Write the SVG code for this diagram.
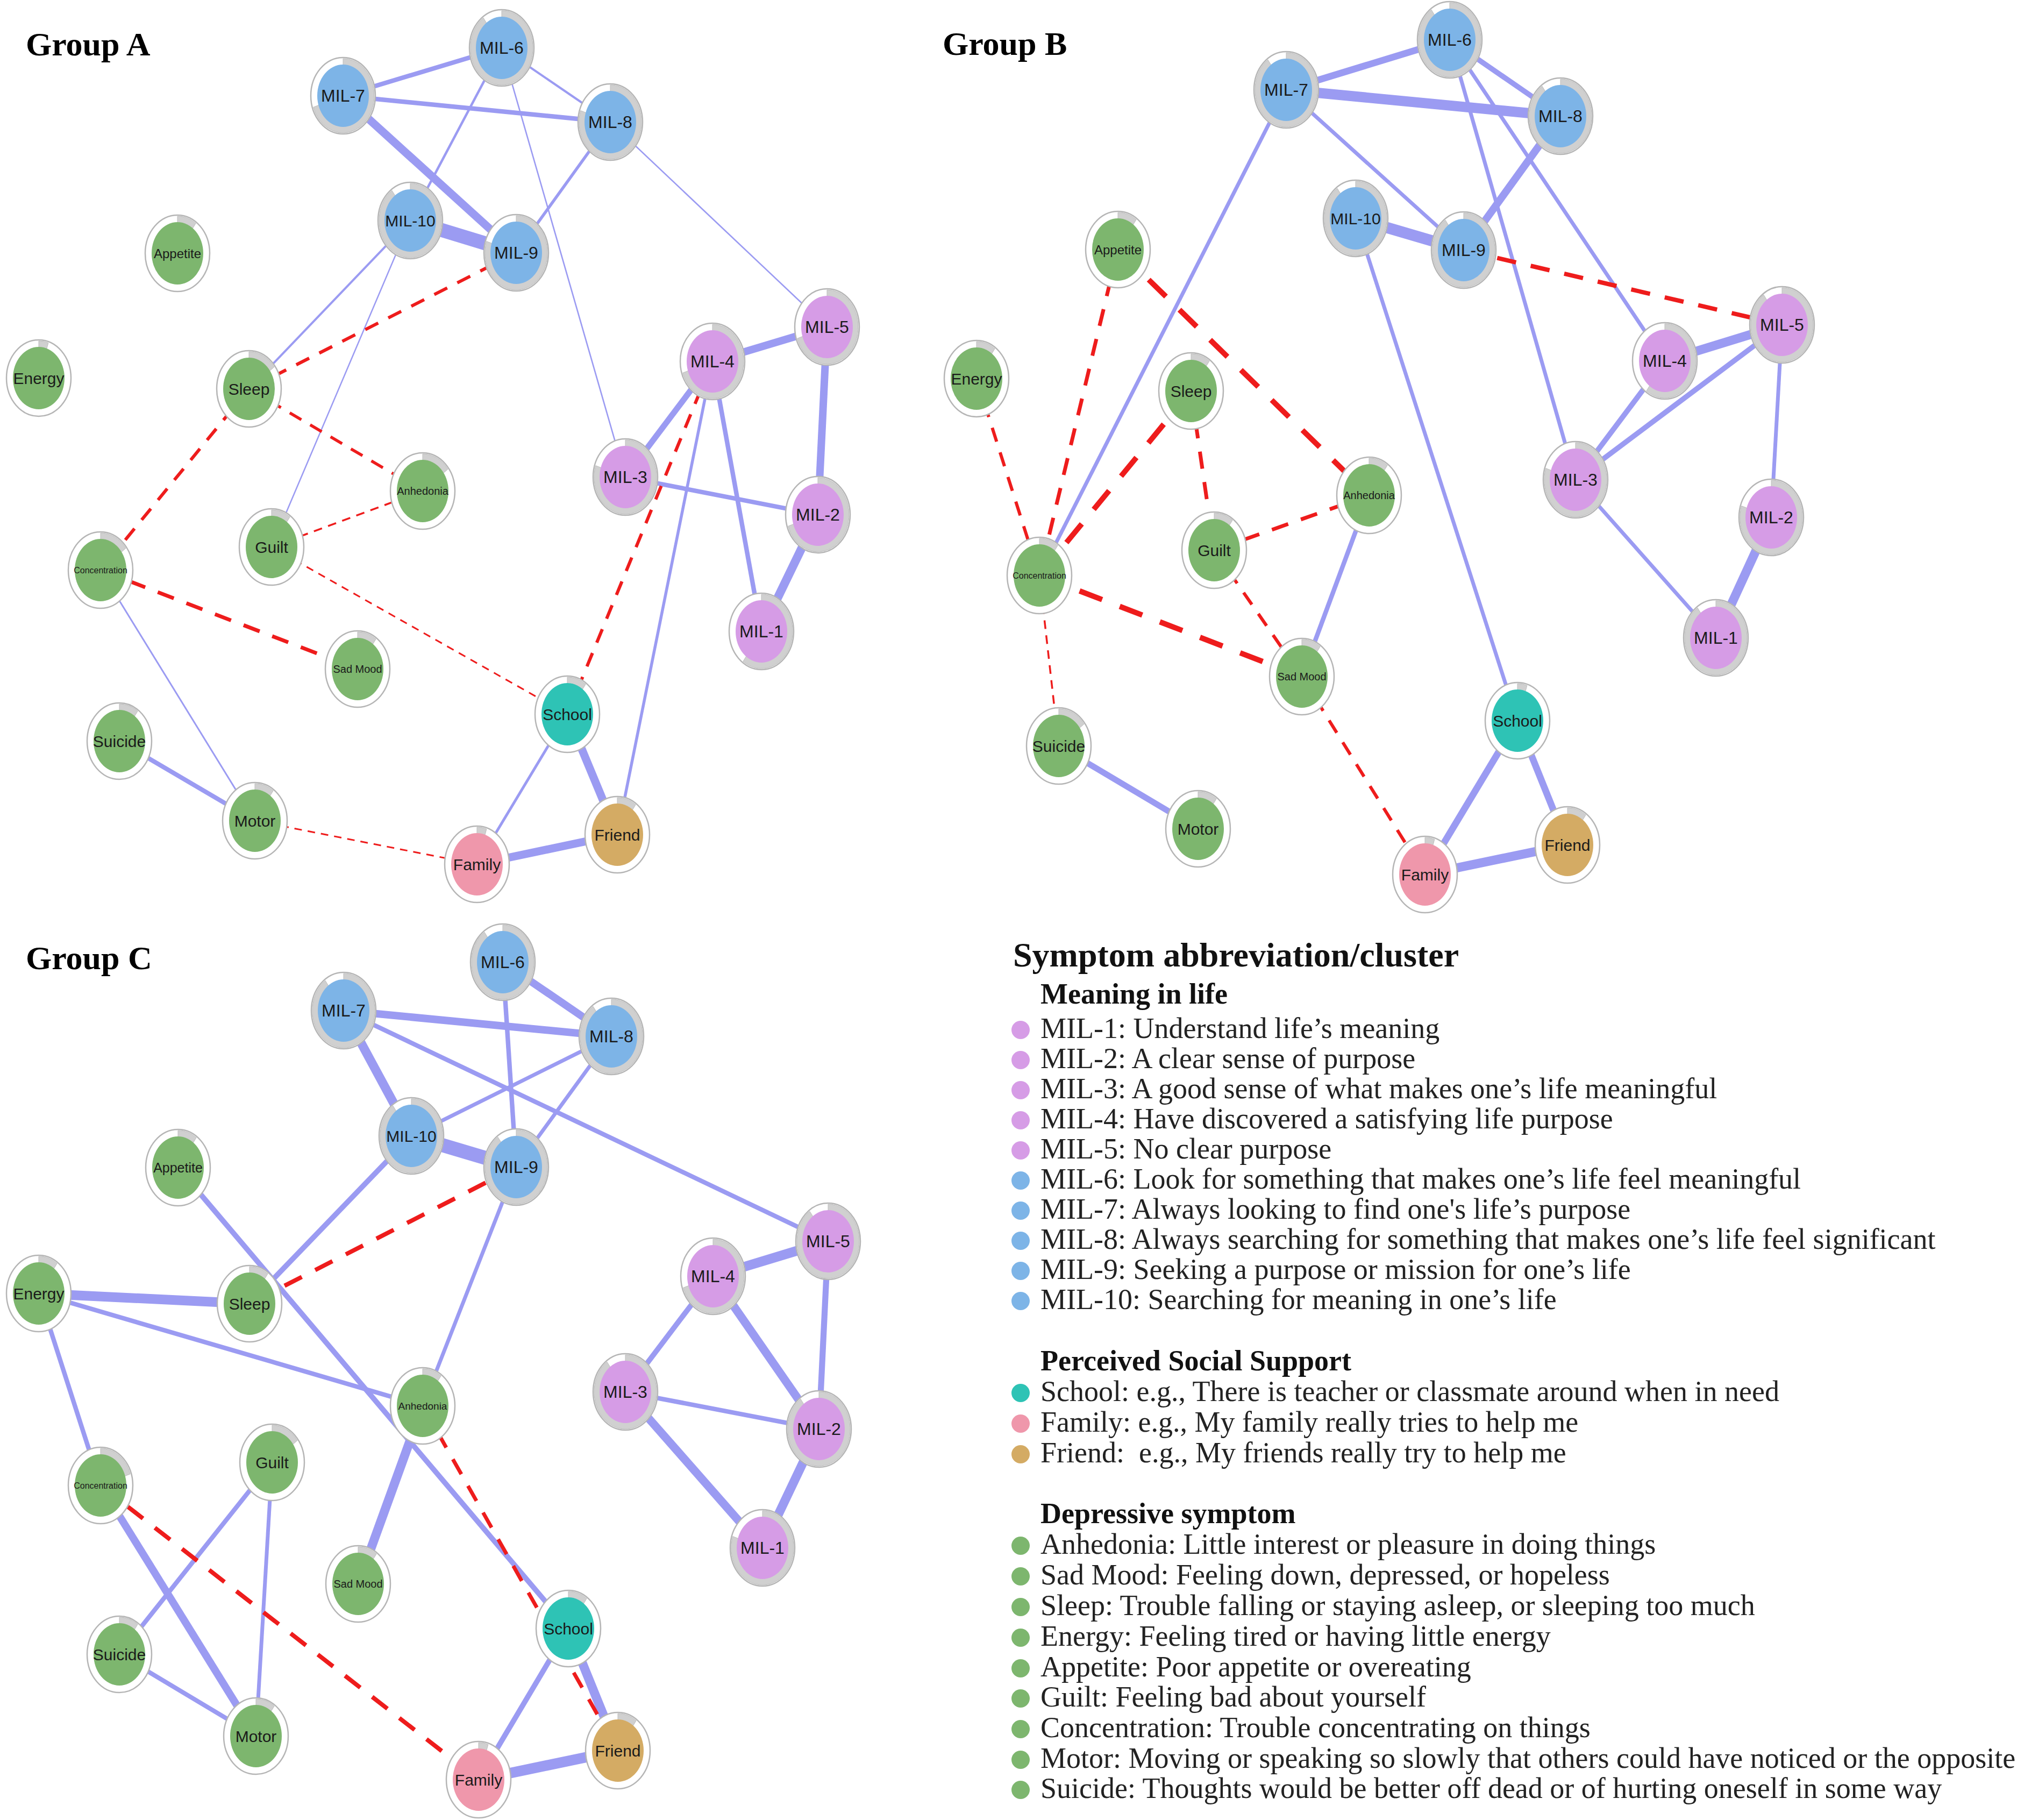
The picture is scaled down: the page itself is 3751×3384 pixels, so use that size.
<svg xmlns="http://www.w3.org/2000/svg" xmlns:xlink="http://www.w3.org/1999/xlink" width="3751" height="3384" viewBox="0 0 3751 3384">
<style>
.ring{fill:#ffffff;stroke:#b5b5b5;stroke-width:2.5}
.pie{fill:#d0d0d0;stroke:#bdbdbd;stroke-width:1}
.mp{fill:#d69ce6}.mb{fill:#7db4e7}.dg{fill:#7db66e}.sc{fill:#2ec3b5}.fa{fill:#ef97ab}.fr{fill:#d4ab64}
.lbl{font-family:"Liberation Sans",Arial,sans-serif;text-anchor:middle;dominant-baseline:central;fill:#1a1a1a}
.pos{stroke:#9b9bf2;fill:none}
.neg{stroke:#ee1c1c;fill:none}
.title{font-family:"Liberation Serif","Times New Roman",serif;font-weight:bold;font-size:62px;fill:#000}
.head{font-family:"Liberation Serif","Times New Roman",serif;font-weight:bold;font-size:64px;fill:#111}
.sub{font-family:"Liberation Serif","Times New Roman",serif;font-weight:bold;font-size:54px;fill:#111}
.item{font-family:"Liberation Serif","Times New Roman",serif;font-size:54px;fill:#222;white-space:pre}
</style>
<defs>
<ellipse id="ring" class="ring" rx="60" ry="71"/>
<path id="p05" class="pie" d="M0,0 L0,-69 A58,69 0 0 1 17.9,-65.6 Z"/>
<path id="p10" class="pie" d="M0,0 L0,-69 A58,69 0 0 1 34.1,-55.8 Z"/>
<path id="p15" class="pie" d="M0,0 L0,-69 A58,69 0 0 1 46.9,-40.6 Z"/>
<path id="p20" class="pie" d="M0,0 L0,-69 A58,69 0 0 1 55.2,-21.3 Z"/>
<path id="p60" class="pie" d="M0,0 L0,-69 A58,69 0 1 1 -34.1,55.8 Z"/>
<path id="p70" class="pie" d="M0,0 L0,-69 A58,69 0 1 1 -55.2,21.3 Z"/>
<path id="p80" class="pie" d="M0,0 L0,-69 A58,69 0 1 1 -55.2,-21.3 Z"/>
<path id="p90" class="pie" d="M0,0 L0,-69 A58,69 0 1 1 -34.1,-55.8 Z"/>
<ellipse id="core" rx="48" ry="58"/>
</defs>
<rect width="3751" height="3384" fill="#ffffff"/>

<text class="title" x="48" y="103">Group A</text>
<text class="title" x="1753" y="102">Group B</text>
<text class="title" x="48" y="1802">Group C</text>

<g id="connectors">
<!-- Group A -->
<line class="pos" x1="638" y1="178" x2="933" y2="89" stroke-width="8.4"/>
<line class="pos" x1="638" y1="178" x2="1135" y2="227" stroke-width="8.4"/>
<line class="pos" x1="933" y1="89" x2="1135" y2="227" stroke-width="4"/>
<line class="pos" x1="638" y1="178" x2="960" y2="470" stroke-width="15"/>
<line class="pos" x1="763" y1="410" x2="960" y2="470" stroke-width="26"/>
<line class="pos" x1="933" y1="89" x2="763" y2="410" stroke-width="4.5"/>
<line class="pos" x1="1135" y1="227" x2="960" y2="470" stroke-width="5.5"/>
<line class="pos" x1="933" y1="89" x2="1163" y2="887" stroke-width="2.6"/>
<line class="pos" x1="1135" y1="227" x2="1538" y2="608" stroke-width="2.6"/>
<line class="pos" x1="763" y1="410" x2="463" y2="723" stroke-width="4"/>
<line class="pos" x1="763" y1="410" x2="505" y2="1017" stroke-width="2.5"/>
<line class="pos" x1="187" y1="1060" x2="474" y2="1526" stroke-width="3"/>
<line class="pos" x1="222" y1="1378" x2="474" y2="1526" stroke-width="8.4"/>
<line class="pos" x1="1055" y1="1328" x2="1148" y2="1552" stroke-width="15"/>
<line class="pos" x1="1055" y1="1328" x2="887" y2="1607" stroke-width="5"/>
<line class="pos" x1="887" y1="1607" x2="1148" y2="1552" stroke-width="15"/>
<line class="pos" x1="1148" y1="1552" x2="1325" y2="672" stroke-width="5.5"/>
<line class="pos" x1="1325" y1="672" x2="1538" y2="608" stroke-width="14"/>
<line class="pos" x1="1538" y1="608" x2="1521" y2="957" stroke-width="14"/>
<line class="pos" x1="1325" y1="672" x2="1163" y2="887" stroke-width="11"/>
<line class="pos" x1="1325" y1="672" x2="1416" y2="1174" stroke-width="8.4"/>
<line class="pos" x1="1163" y1="887" x2="1521" y2="957" stroke-width="8.4"/>
<line class="pos" x1="1521" y1="957" x2="1416" y2="1174" stroke-width="16"/>
<line class="neg" x1="960" y1="470" x2="463" y2="723" stroke-width="6" stroke-dasharray="27 21"/>
<line class="neg" x1="463" y1="723" x2="187" y2="1060" stroke-width="6" stroke-dasharray="27 21"/>
<line class="neg" x1="463" y1="723" x2="786" y2="913" stroke-width="5.5" stroke-dasharray="25 19"/>
<line class="neg" x1="505" y1="1017" x2="786" y2="913" stroke-width="3.5" stroke-dasharray="16 12"/>
<line class="neg" x1="505" y1="1017" x2="1055" y2="1328" stroke-width="3" stroke-dasharray="14 11"/>
<line class="neg" x1="187" y1="1060" x2="665" y2="1244" stroke-width="7" stroke-dasharray="32 25"/>
<line class="neg" x1="474" y1="1526" x2="887" y2="1607" stroke-width="3" stroke-dasharray="14 11"/>
<line class="neg" x1="1055" y1="1328" x2="1325" y2="672" stroke-width="6" stroke-dasharray="27 21"/>
<!-- Group B -->
<line class="pos" x1="2392" y1="167" x2="2696" y2="74" stroke-width="12.6"/>
<line class="pos" x1="2392" y1="167" x2="2902" y2="216" stroke-width="19"/>
<line class="pos" x1="2696" y1="74" x2="2902" y2="216" stroke-width="9.8"/>
<line class="pos" x1="2696" y1="74" x2="3096" y2="671" stroke-width="7"/>
<line class="pos" x1="2696" y1="74" x2="2930" y2="892" stroke-width="7"/>
<line class="pos" x1="2392" y1="167" x2="2722" y2="465" stroke-width="7"/>
<line class="pos" x1="2902" y1="216" x2="2722" y2="465" stroke-width="14"/>
<line class="pos" x1="2521" y1="406" x2="2722" y2="465" stroke-width="21"/>
<line class="pos" x1="2392" y1="167" x2="1933" y2="1070" stroke-width="7"/>
<line class="pos" x1="2521" y1="406" x2="2822" y2="1340" stroke-width="7"/>
<line class="pos" x1="3096" y1="671" x2="3314" y2="604" stroke-width="16.8"/>
<line class="pos" x1="2930" y1="892" x2="3096" y2="671" stroke-width="9.8"/>
<line class="pos" x1="2930" y1="892" x2="3314" y2="604" stroke-width="9.8"/>
<line class="pos" x1="3314" y1="604" x2="3294" y2="962" stroke-width="7"/>
<line class="pos" x1="2930" y1="892" x2="3191" y2="1186" stroke-width="7"/>
<line class="pos" x1="3294" y1="962" x2="3191" y2="1186" stroke-width="16.8"/>
<line class="pos" x1="2546" y1="921" x2="2421" y2="1258" stroke-width="8.4"/>
<line class="pos" x1="1969" y1="1387" x2="2228" y2="1541" stroke-width="11.2"/>
<line class="pos" x1="2822" y1="1340" x2="2650" y2="1626" stroke-width="12.6"/>
<line class="pos" x1="2822" y1="1340" x2="2915" y2="1571" stroke-width="12.6"/>
<line class="pos" x1="2650" y1="1626" x2="2915" y2="1571" stroke-width="16.8"/>
<line class="neg" x1="2722" y1="465" x2="3314" y2="604" stroke-width="8" stroke-dasharray="36 28"/>
<line class="neg" x1="2079" y1="464" x2="1933" y2="1070" stroke-width="7" stroke-dasharray="32 25"/>
<line class="neg" x1="2079" y1="464" x2="2546" y2="921" stroke-width="10" stroke-dasharray="45 35"/>
<line class="neg" x1="1816" y1="704" x2="1933" y2="1070" stroke-width="6" stroke-dasharray="27 21"/>
<line class="neg" x1="2215" y1="727" x2="1933" y2="1070" stroke-width="10" stroke-dasharray="45 35"/>
<line class="neg" x1="2215" y1="727" x2="2258" y2="1023" stroke-width="7" stroke-dasharray="32 25"/>
<line class="neg" x1="2258" y1="1023" x2="2546" y2="921" stroke-width="7" stroke-dasharray="32 25"/>
<line class="neg" x1="2258" y1="1023" x2="2421" y2="1258" stroke-width="6" stroke-dasharray="27 21"/>
<line class="neg" x1="1933" y1="1070" x2="2421" y2="1258" stroke-width="10" stroke-dasharray="45 35"/>
<line class="neg" x1="1933" y1="1070" x2="1969" y2="1387" stroke-width="3.5" stroke-dasharray="16 12"/>
<line class="neg" x1="2421" y1="1258" x2="2650" y2="1626" stroke-width="6" stroke-dasharray="27 21"/>
<!-- Group C -->
<line class="pos" x1="639" y1="1879" x2="1137" y2="1927" stroke-width="14"/>
<line class="pos" x1="935" y1="1789" x2="1137" y2="1927" stroke-width="14"/>
<line class="pos" x1="935" y1="1789" x2="960" y2="2170" stroke-width="8.4"/>
<line class="pos" x1="639" y1="1879" x2="765" y2="2112" stroke-width="16.8"/>
<line class="pos" x1="639" y1="1879" x2="1540" y2="2308" stroke-width="8.4"/>
<line class="pos" x1="765" y1="2112" x2="1137" y2="1927" stroke-width="7"/>
<line class="pos" x1="960" y1="2170" x2="1137" y2="1927" stroke-width="7"/>
<line class="pos" x1="765" y1="2112" x2="960" y2="2170" stroke-width="26"/>
<line class="pos" x1="765" y1="2112" x2="464" y2="2424" stroke-width="9.8"/>
<line class="pos" x1="960" y1="2170" x2="786" y2="2614" stroke-width="7"/>
<line class="pos" x1="331" y1="2171" x2="1057" y2="3028" stroke-width="9.8"/>
<line class="pos" x1="72" y1="2405" x2="464" y2="2424" stroke-width="18"/>
<line class="pos" x1="72" y1="2405" x2="786" y2="2614" stroke-width="8.4"/>
<line class="pos" x1="72" y1="2405" x2="187" y2="2762" stroke-width="8.4"/>
<line class="pos" x1="786" y1="2614" x2="666" y2="2945" stroke-width="16.8"/>
<line class="pos" x1="187" y1="2762" x2="476" y2="3228" stroke-width="14"/>
<line class="pos" x1="506" y1="2719" x2="222" y2="3076" stroke-width="8.4"/>
<line class="pos" x1="506" y1="2719" x2="476" y2="3228" stroke-width="7"/>
<line class="pos" x1="222" y1="3076" x2="476" y2="3228" stroke-width="8.4"/>
<line class="pos" x1="1057" y1="3028" x2="890" y2="3309" stroke-width="9.8"/>
<line class="pos" x1="1057" y1="3028" x2="1149" y2="3255" stroke-width="16.8"/>
<line class="pos" x1="890" y1="3309" x2="1149" y2="3255" stroke-width="19.6"/>
<line class="pos" x1="1326" y1="2373" x2="1540" y2="2308" stroke-width="18"/>
<line class="pos" x1="1326" y1="2373" x2="1163" y2="2588" stroke-width="9.8"/>
<line class="pos" x1="1326" y1="2373" x2="1523" y2="2657" stroke-width="15.4"/>
<line class="pos" x1="1540" y1="2308" x2="1523" y2="2657" stroke-width="11.2"/>
<line class="pos" x1="1163" y1="2588" x2="1523" y2="2657" stroke-width="8.4"/>
<line class="pos" x1="1163" y1="2588" x2="1418" y2="2878" stroke-width="15.4"/>
<line class="pos" x1="1523" y1="2657" x2="1418" y2="2878" stroke-width="16.8"/>
<line class="neg" x1="960" y1="2170" x2="464" y2="2424" stroke-width="8" stroke-dasharray="36 28"/>
<line class="neg" x1="786" y1="2614" x2="1149" y2="3255" stroke-width="7" stroke-dasharray="32 25"/>
<line class="neg" x1="187" y1="2762" x2="890" y2="3309" stroke-width="8" stroke-dasharray="36 28"/>
</g>

<!-- Group A nodes -->
<g id="A-MIL-6" transform="translate(933,89)"><use href="#ring"/><use href="#p90"/><use href="#core" class="mb"/><text class="lbl" font-size="32">MIL-6</text></g>
<g id="A-MIL-7" transform="translate(638,178)"><use href="#ring"/><use href="#p70"/><use href="#core" class="mb"/><text class="lbl" font-size="32">MIL-7</text></g>
<g id="A-MIL-8" transform="translate(1135,227)"><use href="#ring"/><use href="#p80"/><use href="#core" class="mb"/><text class="lbl" font-size="32">MIL-8</text></g>
<g id="A-MIL-10" transform="translate(763,410)"><use href="#ring"/><use href="#p90"/><use href="#core" class="mb"/><text class="lbl" font-size="30">MIL-10</text></g>
<g id="A-MIL-9" transform="translate(960,470)"><use href="#ring"/><use href="#p80"/><use href="#core" class="mb"/><text class="lbl" font-size="32">MIL-9</text></g>
<g id="A-Appetite" transform="translate(330,471)"><use href="#ring"/><use href="#p10"/><use href="#core" class="dg"/><text class="lbl" font-size="24">Appetite</text></g>
<g id="A-Energy" transform="translate(72,703)"><use href="#ring"/><use href="#p05"/><use href="#core" class="dg"/><text class="lbl" font-size="30">Energy</text></g>
<g id="A-Sleep" transform="translate(463,723)"><use href="#ring"/><use href="#p15"/><use href="#core" class="dg"/><text class="lbl" font-size="30">Sleep</text></g>
<g id="A-Anhedonia" transform="translate(786,913)"><use href="#ring"/><use href="#p15"/><use href="#core" class="dg"/><text class="lbl" font-size="20">Anhedonia</text></g>
<g id="A-Guilt" transform="translate(505,1017)"><use href="#ring"/><use href="#p10"/><use href="#core" class="dg"/><text class="lbl" font-size="30">Guilt</text></g>
<g id="A-Concentration" transform="translate(187,1060)"><use href="#ring"/><use href="#p15"/><use href="#core" class="dg"/><text class="lbl" font-size="16">Concentration</text></g>
<g id="A-SadMood" transform="translate(665,1244)"><use href="#ring"/><use href="#p10"/><use href="#core" class="dg"/><text class="lbl" font-size="20">Sad Mood</text></g>
<g id="A-Suicide" transform="translate(222,1378)"><use href="#ring"/><use href="#p10"/><use href="#core" class="dg"/><text class="lbl" font-size="30">Suicide</text></g>
<g id="A-Motor" transform="translate(474,1526)"><use href="#ring"/><use href="#p10"/><use href="#core" class="dg"/><text class="lbl" font-size="30">Motor</text></g>
<g id="A-School" transform="translate(1055,1328)"><use href="#ring"/><use href="#p10"/><use href="#core" class="sc"/><text class="lbl" font-size="30">School</text></g>
<g id="A-Family" transform="translate(887,1607)"><use href="#ring"/><use href="#p05"/><use href="#core" class="fa"/><text class="lbl" font-size="30">Family</text></g>
<g id="A-Friend" transform="translate(1148,1552)"><use href="#ring"/><use href="#p10"/><use href="#core" class="fr"/><text class="lbl" font-size="30">Friend</text></g>
<g id="A-MIL-5" transform="translate(1538,608)"><use href="#ring"/><use href="#p70"/><use href="#core" class="mp"/><text class="lbl" font-size="32">MIL-5</text></g>
<g id="A-MIL-4" transform="translate(1325,672)"><use href="#ring"/><use href="#p70"/><use href="#core" class="mp"/><text class="lbl" font-size="32">MIL-4</text></g>
<g id="A-MIL-3" transform="translate(1163,887)"><use href="#ring"/><use href="#p80"/><use href="#core" class="mp"/><text class="lbl" font-size="32">MIL-3</text></g>
<g id="A-MIL-2" transform="translate(1521,957)"><use href="#ring"/><use href="#p70"/><use href="#core" class="mp"/><text class="lbl" font-size="32">MIL-2</text></g>
<g id="A-MIL-1" transform="translate(1416,1174)"><use href="#ring"/><use href="#p60"/><use href="#core" class="mp"/><text class="lbl" font-size="32">MIL-1</text></g>

<!-- Group B nodes -->
<g id="B-MIL-6" transform="translate(2696,74)"><use href="#ring"/><use href="#p90"/><use href="#core" class="mb"/><text class="lbl" font-size="32">MIL-6</text></g>
<g id="B-MIL-7" transform="translate(2392,167)"><use href="#ring"/><use href="#p90"/><use href="#core" class="mb"/><text class="lbl" font-size="32">MIL-7</text></g>
<g id="B-MIL-8" transform="translate(2902,216)"><use href="#ring"/><use href="#p90"/><use href="#core" class="mb"/><text class="lbl" font-size="32">MIL-8</text></g>
<g id="B-MIL-10" transform="translate(2521,406)"><use href="#ring"/><use href="#p90"/><use href="#core" class="mb"/><text class="lbl" font-size="30">MIL-10</text></g>
<g id="B-MIL-9" transform="translate(2722,465)"><use href="#ring"/><use href="#p90"/><use href="#core" class="mb"/><text class="lbl" font-size="32">MIL-9</text></g>
<g id="B-Appetite" transform="translate(2079,464)"><use href="#ring"/><use href="#p10"/><use href="#core" class="dg"/><text class="lbl" font-size="24">Appetite</text></g>
<g id="B-Energy" transform="translate(1816,704)"><use href="#ring"/><use href="#p10"/><use href="#core" class="dg"/><text class="lbl" font-size="30">Energy</text></g>
<g id="B-Sleep" transform="translate(2215,727)"><use href="#ring"/><use href="#p10"/><use href="#core" class="dg"/><text class="lbl" font-size="30">Sleep</text></g>
<g id="B-Anhedonia" transform="translate(2546,921)"><use href="#ring"/><use href="#p10"/><use href="#core" class="dg"/><text class="lbl" font-size="20">Anhedonia</text></g>
<g id="B-Guilt" transform="translate(2258,1023)"><use href="#ring"/><use href="#p10"/><use href="#core" class="dg"/><text class="lbl" font-size="30">Guilt</text></g>
<g id="B-Concentration" transform="translate(1933,1070)"><use href="#ring"/><use href="#p10"/><use href="#core" class="dg"/><text class="lbl" font-size="16">Concentration</text></g>
<g id="B-SadMood" transform="translate(2421,1258)"><use href="#ring"/><use href="#p10"/><use href="#core" class="dg"/><text class="lbl" font-size="20">Sad Mood</text></g>
<g id="B-Suicide" transform="translate(1969,1387)"><use href="#ring"/><use href="#p15"/><use href="#core" class="dg"/><text class="lbl" font-size="30">Suicide</text></g>
<g id="B-Motor" transform="translate(2228,1541)"><use href="#ring"/><use href="#p10"/><use href="#core" class="dg"/><text class="lbl" font-size="30">Motor</text></g>
<g id="B-School" transform="translate(2822,1340)"><use href="#ring"/><use href="#p05"/><use href="#core" class="sc"/><text class="lbl" font-size="30">School</text></g>
<g id="B-Family" transform="translate(2650,1626)"><use href="#ring"/><use href="#p05"/><use href="#core" class="fa"/><text class="lbl" font-size="30">Family</text></g>
<g id="B-Friend" transform="translate(2915,1571)"><use href="#ring"/><use href="#p10"/><use href="#core" class="fr"/><text class="lbl" font-size="30">Friend</text></g>
<g id="B-MIL-5" transform="translate(3314,604)"><use href="#ring"/><use href="#p90"/><use href="#core" class="mp"/><text class="lbl" font-size="32">MIL-5</text></g>
<g id="B-MIL-4" transform="translate(3096,671)"><use href="#ring"/><use href="#p60"/><use href="#core" class="mp"/><text class="lbl" font-size="32">MIL-4</text></g>
<g id="B-MIL-3" transform="translate(2930,892)"><use href="#ring"/><use href="#p80"/><use href="#core" class="mp"/><text class="lbl" font-size="32">MIL-3</text></g>
<g id="B-MIL-2" transform="translate(3294,962)"><use href="#ring"/><use href="#p80"/><use href="#core" class="mp"/><text class="lbl" font-size="32">MIL-2</text></g>
<g id="B-MIL-1" transform="translate(3191,1186)"><use href="#ring"/><use href="#p90"/><use href="#core" class="mp"/><text class="lbl" font-size="32">MIL-1</text></g>

<!-- Group C nodes -->
<g id="C-MIL-6" transform="translate(935,1789)"><use href="#ring"/><use href="#p90"/><use href="#core" class="mb"/><text class="lbl" font-size="32">MIL-6</text></g>
<g id="C-MIL-7" transform="translate(639,1879)"><use href="#ring"/><use href="#p90"/><use href="#core" class="mb"/><text class="lbl" font-size="32">MIL-7</text></g>
<g id="C-MIL-8" transform="translate(1137,1927)"><use href="#ring"/><use href="#p90"/><use href="#core" class="mb"/><text class="lbl" font-size="32">MIL-8</text></g>
<g id="C-MIL-10" transform="translate(765,2112)"><use href="#ring"/><use href="#p90"/><use href="#core" class="mb"/><text class="lbl" font-size="30">MIL-10</text></g>
<g id="C-MIL-9" transform="translate(960,2170)"><use href="#ring"/><use href="#p90"/><use href="#core" class="mb"/><text class="lbl" font-size="32">MIL-9</text></g>
<g id="C-Appetite" transform="translate(331,2171)"><use href="#ring"/><use href="#p10"/><use href="#core" class="dg"/><text class="lbl" font-size="25">Appetite</text></g>
<g id="C-Energy" transform="translate(72,2405)"><use href="#ring"/><use href="#p10"/><use href="#core" class="dg"/><text class="lbl" font-size="30">Energy</text></g>
<g id="C-Sleep" transform="translate(464,2424)"><use href="#ring"/><use href="#p10"/><use href="#core" class="dg"/><text class="lbl" font-size="30">Sleep</text></g>
<g id="C-Anhedonia" transform="translate(786,2614)"><use href="#ring"/><use href="#p10"/><use href="#core" class="dg"/><text class="lbl" font-size="19">Anhedonia</text></g>
<g id="C-Guilt" transform="translate(506,2719)"><use href="#ring"/><use href="#p15"/><use href="#core" class="dg"/><text class="lbl" font-size="30">Guilt</text></g>
<g id="C-Concentration" transform="translate(187,2762)"><use href="#ring"/><use href="#p20"/><use href="#core" class="dg"/><text class="lbl" font-size="16">Concentration</text></g>
<g id="C-SadMood" transform="translate(666,2945)"><use href="#ring"/><use href="#p10"/><use href="#core" class="dg"/><text class="lbl" font-size="20">Sad Mood</text></g>
<g id="C-Suicide" transform="translate(222,3076)"><use href="#ring"/><use href="#p10"/><use href="#core" class="dg"/><text class="lbl" font-size="30">Suicide</text></g>
<g id="C-Motor" transform="translate(476,3228)"><use href="#ring"/><use href="#p10"/><use href="#core" class="dg"/><text class="lbl" font-size="30">Motor</text></g>
<g id="C-School" transform="translate(1057,3028)"><use href="#ring"/><use href="#p10"/><use href="#core" class="sc"/><text class="lbl" font-size="30">School</text></g>
<g id="C-Family" transform="translate(890,3309)"><use href="#ring"/><use href="#p05"/><use href="#core" class="fa"/><text class="lbl" font-size="30">Family</text></g>
<g id="C-Friend" transform="translate(1149,3255)"><use href="#ring"/><use href="#p10"/><use href="#core" class="fr"/><text class="lbl" font-size="30">Friend</text></g>
<g id="C-MIL-5" transform="translate(1540,2308)"><use href="#ring"/><use href="#p90"/><use href="#core" class="mp"/><text class="lbl" font-size="32">MIL-5</text></g>
<g id="C-MIL-4" transform="translate(1326,2373)"><use href="#ring"/><use href="#p70"/><use href="#core" class="mp"/><text class="lbl" font-size="32">MIL-4</text></g>
<g id="C-MIL-3" transform="translate(1163,2588)"><use href="#ring"/><use href="#p90"/><use href="#core" class="mp"/><text class="lbl" font-size="32">MIL-3</text></g>
<g id="C-MIL-2" transform="translate(1523,2657)"><use href="#ring"/><use href="#p90"/><use href="#core" class="mp"/><text class="lbl" font-size="32">MIL-2</text></g>
<g id="C-MIL-1" transform="translate(1418,2878)"><use href="#ring"/><use href="#p80"/><use href="#core" class="mp"/><text class="lbl" font-size="32">MIL-1</text></g>

<!-- Legend -->
<g id="legend">
<text class="head" x="1884" y="1797">Symptom abbreviation/cluster</text>
<text class="sub" x="1935" y="1866">Meaning in life</text>
<circle cx="1898" cy="1915" r="17" class="mp"/><text class="item" x="1935" y="1930">MIL-1: Understand life’s meaning</text>
<circle cx="1898" cy="1971" r="17" class="mp"/><text class="item" x="1935" y="1986">MIL-2: A clear sense of purpose</text>
<circle cx="1898" cy="2027" r="17" class="mp"/><text class="item" x="1935" y="2042">MIL-3: A good sense of what makes one’s life meaningful</text>
<circle cx="1898" cy="2083" r="17" class="mp"/><text class="item" x="1935" y="2098">MIL-4: Have discovered a satisfying life purpose</text>
<circle cx="1898" cy="2139" r="17" class="mp"/><text class="item" x="1935" y="2154">MIL-5: No clear purpose</text>
<circle cx="1898" cy="2195" r="17" class="mb"/><text class="item" x="1935" y="2210">MIL-6: Look for something that makes one’s life feel meaningful</text>
<circle cx="1898" cy="2251" r="17" class="mb"/><text class="item" x="1935" y="2266">MIL-7: Always looking to find one's life’s purpose</text>
<circle cx="1898" cy="2307" r="17" class="mb"/><text class="item" x="1935" y="2322">MIL-8: Always searching for something that makes one’s life feel significant</text>
<circle cx="1898" cy="2363" r="17" class="mb"/><text class="item" x="1935" y="2378">MIL-9: Seeking a purpose or mission for one’s life</text>
<circle cx="1898" cy="2419" r="17" class="mb"/><text class="item" x="1935" y="2434">MIL-10: Searching for meaning in one’s life</text>
<text class="sub" x="1935" y="2548">Perceived Social Support</text>
<circle cx="1898" cy="2590" r="17" class="sc"/><text class="item" x="1935" y="2605">School: e.g., There is teacher or classmate around when in need</text>
<circle cx="1898" cy="2647" r="17" class="fa"/><text class="item" x="1935" y="2662">Family: e.g., My family really tries to help me</text>
<circle cx="1898" cy="2704" r="17" class="fr"/><text class="item" x="1935" y="2719">Friend:  e.g., My friends really try to help me</text>
<text class="sub" x="1935" y="2832">Depressive symptom</text>
<circle cx="1898" cy="2874" r="17" class="dg"/><text class="item" x="1935" y="2889">Anhedonia: Little interest or pleasure in doing things</text>
<circle cx="1898" cy="2931" r="17" class="dg"/><text class="item" x="1935" y="2946">Sad Mood: Feeling down, depressed, or hopeless</text>
<circle cx="1898" cy="2988" r="17" class="dg"/><text class="item" x="1935" y="3003">Sleep: Trouble falling or staying asleep, or sleeping too much</text>
<circle cx="1898" cy="3045" r="17" class="dg"/><text class="item" x="1935" y="3060">Energy: Feeling tired or having little energy</text>
<circle cx="1898" cy="3102" r="17" class="dg"/><text class="item" x="1935" y="3117">Appetite: Poor appetite or overeating</text>
<circle cx="1898" cy="3158" r="17" class="dg"/><text class="item" x="1935" y="3173">Guilt: Feeling bad about yourself</text>
<circle cx="1898" cy="3215" r="17" class="dg"/><text class="item" x="1935" y="3230">Concentration: Trouble concentrating on things</text>
<circle cx="1898" cy="3272" r="17" class="dg"/><text class="item" x="1935" y="3287">Motor: Moving or speaking so slowly that others could have noticed or the opposite</text>
<circle cx="1898" cy="3328" r="17" class="dg"/><text class="item" x="1935" y="3343">Suicide: Thoughts would be better off dead or of hurting oneself in some way</text>
</g>
</svg>
